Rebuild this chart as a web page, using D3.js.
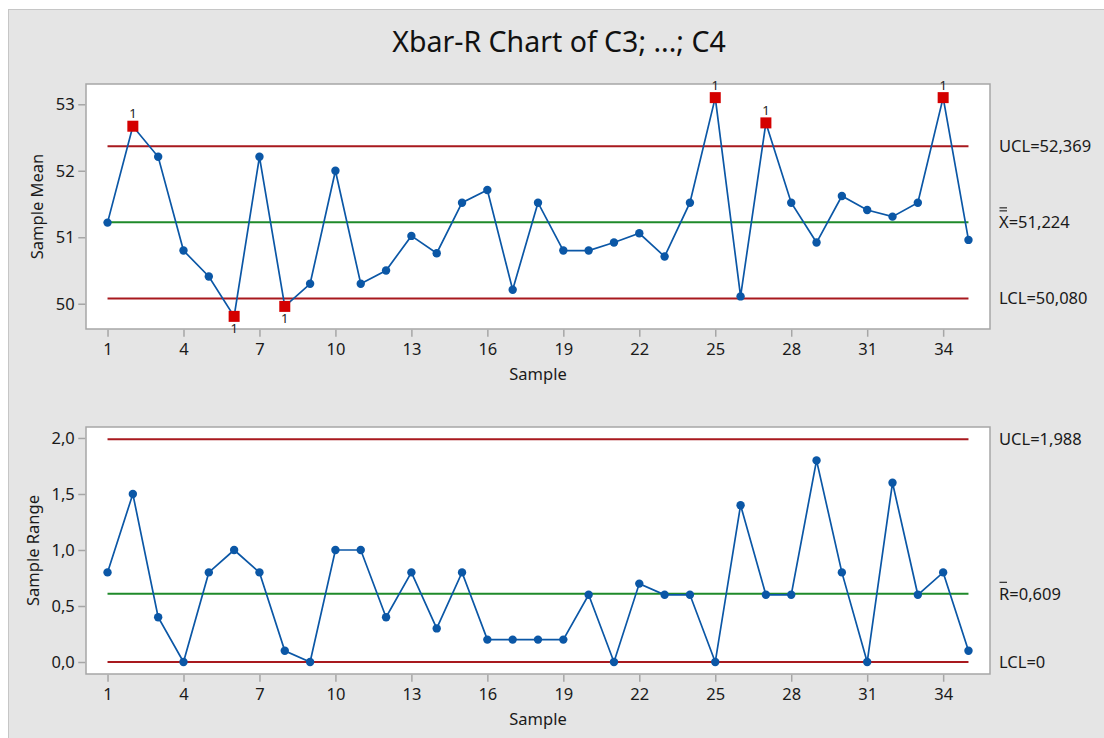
<!DOCTYPE html>
<html>
<head>
<meta charset="utf-8">
<script src="https://cdn.jsdelivr.net/npm/d3@7"></script>
<style>
  body { margin: 0; background: #fff; }
  svg { display: block; font-family: "Noto Sans", "Open Sans", sans-serif; }
</style>
</head>
<body>
<div id="chart"></div>
<script>
// data
var samples = d3.range(1, 36);
var means = [51.22, 52.67, 52.21, 50.8, 50.41, 49.81, 52.21, 49.96, 50.3, 52.0,
             50.3, 50.5, 51.02, 50.76, 51.52, 51.71, 50.21, 51.52, 50.8, 50.8,
             50.92, 51.06, 50.71, 51.52, 53.1, 50.11, 52.72, 51.52, 50.92, 51.62,
             51.41, 51.31, 51.52, 53.1, 50.96];
var ranges = [0.8, 1.5, 0.4, 0, 0.8, 1.0, 0.8, 0.1, 0, 1.0,
              1.0, 0.4, 0.8, 0.3, 0.8, 0.2, 0.2, 0.2, 0.2, 0.6,
              0, 0.7, 0.6, 0.6, 0, 1.4, 0.6, 0.6, 1.8, 0.8,
              0, 1.6, 0.6, 0.8, 0.1];
var xTicks = [1, 4, 7, 10, 13, 16, 19, 22, 25, 28, 31, 34];
var meanTicks = [50, 51, 52, 53];
var rangeTicks = [0, 0.5, 1.0, 1.5, 2.0];
var meanLimits = { ucl: 52.369, center: 51.224, lcl: 50.080 };
var rangeLimits = { ucl: 1.988, center: 0.609, lcl: 0 };

var W = 1104, H = 738;
var FS = 16.5; // label font size
var fmt = function (v, d) { return v.toFixed(d).replace(".", ","); };

var svg = d3.select("#chart").append("svg").attr("width", W).attr("height", H);

// gray panel
svg.append("rect").attr("x", 8.5).attr("y", 9.5).attr("width", W).attr("height", H)
  .attr("fill", "#e5e5e5").attr("stroke", "#c6c6c6");

svg.append("text").attr("x", 559).attr("y", 52).attr("text-anchor", "middle")
  .attr("font-size", 28.5).attr("fill", "#111").text("Xbar-R Chart of C3; ...; C4");

var x = d3.scaleLinear().domain([0.15, 35.85]).range([86, 990]);

function panel(cfg) {
  var y = d3.scaleLinear().domain(cfg.domain).range([cfg.bottom, cfg.top]);
  var g = svg.append("g");

  g.append("rect").attr("x", 86).attr("y", cfg.top).attr("width", 904)
    .attr("height", cfg.bottom - cfg.top).attr("fill", "#fff")
    .attr("stroke", "#a6a6a6").attr("stroke-width", 1.5);

  var ax = g.append("g").attr("transform", "translate(0," + (cfg.bottom + 0.75) + ")")
    .call(d3.axisBottom(x).tickValues(xTicks).tickSize(7).tickPadding(6.5));
  var ay = g.append("g").attr("transform", "translate(85.25,0)")
    .call(d3.axisLeft(y).tickValues(cfg.ticks).tickSize(7).tickPadding(3.5)
      .tickFormat(function (d) { return cfg.tickFmt(d); }));
  [ax, ay].forEach(function (a) {
    a.select(".domain").remove();
    a.selectAll("line").attr("stroke", "#a6a6a6").attr("stroke-width", 1.5);
    a.selectAll("text").attr("font-size", FS).attr("fill", "#1a1a1a")
      .attr("font-family", "'Noto Sans', sans-serif");
  });

  // control limits
  var lim = cfg.limits;
  [["ucl", "#a8191e"], ["center", "#1f8a2a"], ["lcl", "#a8191e"]].forEach(function (p) {
    g.append("line").attr("x1", x(1)).attr("x2", x(35))
      .attr("y1", y(lim[p[0]])).attr("y2", y(lim[p[0]]))
      .attr("stroke", p[1]).attr("stroke-width", 2);
  });

  var line = d3.line().x(function (d, i) { return x(samples[i]); })
    .y(function (d) { return y(d); });
  g.append("path").attr("d", line(cfg.values)).attr("fill", "none")
    .attr("stroke", "#0b57a6").attr("stroke-width", 1.7);

  cfg.values.forEach(function (v, i) {
    var out = v > lim.ucl || v < lim.lcl;
    if (out) {
      g.append("rect").attr("x", x(samples[i]) - 5.5).attr("y", y(v) - 5.5)
        .attr("width", 11).attr("height", 11).attr("fill", "#d40000");
      g.append("text").attr("x", x(samples[i])).attr("y", v > lim.ucl ? y(v) - 8 : y(v) + 17)
        .attr("text-anchor", "middle").attr("font-size", 13).attr("fill", "#222").text("1");
    } else {
      g.append("circle").attr("cx", x(samples[i])).attr("cy", y(v)).attr("r", 4.2)
        .attr("fill", "#0b57a6");
    }
  });

  // axis titles
  g.append("text").attr("x", 538).attr("y", cfg.bottom + 51).attr("text-anchor", "middle")
    .attr("font-size", FS).attr("fill", "#1a1a1a").text("Sample");
  g.append("text").attr("transform", "translate(" + cfg.ylabX + "," + ((cfg.top + cfg.bottom) / 2) + ") rotate(-90)")
    .attr("text-anchor", "middle").attr("font-size", FS).attr("fill", "#1a1a1a").text(cfg.ylabel);

  // limit labels on the right
  var lx = 999;
  var labels = [
    [lim.ucl, "UCL=" + cfg.limFmt(lim.ucl)],
    [lim.center, cfg.centerSym + "=" + cfg.limFmt(lim.center)],
    [lim.lcl, "LCL=" + cfg.limFmt(lim.lcl)]
  ];
  labels.forEach(function (l) {
    g.append("text").attr("x", lx).attr("y", y(l[0])).attr("dy", "0.36em")
      .attr("font-size", FS).attr("fill", "#1a1a1a").text(l[1]);
  });
  // bars over the centre symbol
  var cy = y(lim.center);
  for (var b = 0; b < cfg.bars; b++) {
    g.append("line").attr("x1", lx + 0.5).attr("x2", lx + 8)
      .attr("y1", cy - 11.5 - b * 3).attr("y2", cy - 11.5 - b * 3)
      .attr("stroke", "#1a1a1a").attr("stroke-width", 1.1);
  }
}

panel({
  top: 84, bottom: 329, domain: [49.62, 53.305], ticks: meanTicks,
  tickFmt: function (d) { return d3.format("d")(d); },
  limFmt: function (v) { return fmt(v, 3); },
  values: means, limits: meanLimits, ylabel: "Sample Mean", ylabX: 43,
  centerSym: "X", bars: 2
});

panel({
  top: 427, bottom: 674, domain: [-0.107, 2.098], ticks: rangeTicks,
  tickFmt: function (d) { return fmt(d, 1); },
  limFmt: function (v) { return v === 0 ? "0" : fmt(v, 3); },
  values: ranges, limits: rangeLimits, ylabel: "Sample Range", ylabX: 39,
  centerSym: "R", bars: 1
});
</script>
</body>
</html>
